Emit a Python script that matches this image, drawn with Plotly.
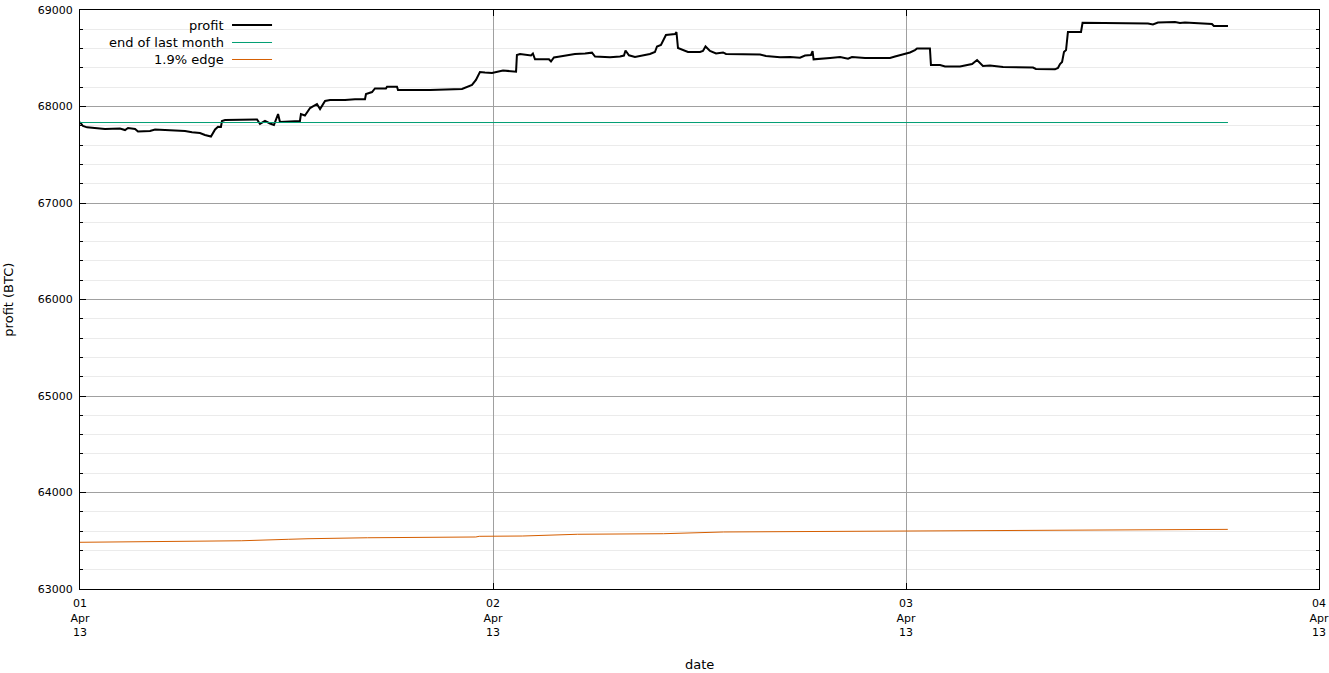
import datetime as dt
import plotly.graph_objects as go

# ---- data ----
start = dt.datetime(2013, 4, 1)

profit_hours = [0, 0.17, 0.41, 1.16, 1.45, 2.32, 2.62, 2.79, 3.20, 3.37, 4.07, 4.36, 5.52, 6.10, 6.51, 6.97,
                7.26, 7.61, 7.85, 8.02, 8.19, 8.25, 8.43, 9.70, 10.29, 10.46, 10.75, 11.04, 11.27, 11.51, 11.62,
                12.20, 12.78, 12.84, 13.07, 13.37, 13.77, 13.95, 14.24, 14.53, 15.40, 15.98, 16.56, 16.62, 16.97,
                17.14, 17.78, 17.84, 18.42, 18.48, 20.34, 22.20, 22.55, 22.78, 23.01, 23.24, 23.53, 23.94, 24.58,
                24.87, 25.34, 25.39, 25.57, 26.21, 26.32, 26.44, 27.25, 27.37, 27.54, 27.89, 28.47, 28.76, 29.35,
                29.75, 29.93, 30.80, 31.38, 31.61, 31.70, 31.90, 32.25, 33.12, 33.41, 33.53, 33.76, 34.05, 34.58,
                34.66, 34.75, 35.33, 36.03, 36.20, 36.35, 36.61, 36.96, 37.37, 37.54, 39.52, 39.86, 40.68, 41.26,
                41.84, 42.13, 42.48, 42.57, 42.63, 43.59, 44.17, 44.63, 44.86, 45.62, 47.07, 47.36, 47.94, 48.23,
                48.52, 48.64, 49.39, 49.45, 49.98, 50.27, 51.14, 51.84, 52.13, 52.30, 52.47, 52.88, 53.64, 55.38,
                55.55, 56.66, 56.83, 56.95, 57.07, 57.18, 57.30, 57.41, 58.17, 58.26, 59.27, 62.06, 62.35, 62.64,
                63.63, 63.92, 64.21, 64.79, 65.78, 65.89, 66.71]
profit_values = [67839, 67798, 67784, 67777, 67767, 67772, 67756, 67777, 67767, 67741, 67746, 67762, 67753, 67746,
                 67733, 67725, 67705, 67689, 67762, 67791, 67788, 67850, 67860, 67865, 67865, 67819, 67850, 67824,
                 67808, 67922, 67839, 67845, 67850, 67922, 67907, 67984, 68026, 67974, 68057, 68067, 68067, 68075,
                 68075, 68130, 68150, 68187, 68187, 68205, 68205, 68171, 68171, 68181, 68202, 68223, 68275, 68357,
                 68352, 68347, 68373, 68368, 68361, 68534, 68544, 68528, 68549, 68489, 68489, 68466, 68508, 68518,
                 68534, 68544, 68549, 68558, 68518, 68510, 68518, 68528, 68580, 68531, 68513, 68544, 68565, 68622,
                 68637, 68741, 68751, 68772, 68606, 68565, 68565, 68575, 68622, 68575, 68549, 68560, 68544, 68539,
                 68523, 68510, 68513, 68506, 68528, 68534, 68575, 68489, 68503, 68513, 68495, 68513, 68503, 68503,
                 68518, 68544, 68560, 68585, 68601, 68601, 68430, 68430, 68414, 68414, 68440, 68482, 68456, 68420,
                 68425, 68409, 68404, 68389, 68385, 68399, 68440, 68461, 68565, 68585, 68772, 68772, 68868, 68865,
                 68860, 68850, 68870, 68876, 68865, 68870, 68865, 68855, 68834, 68834]

edge_hours = [0, 4.2, 8.1, 9.4, 12.1, 13.25, 16.7, 20.9, 23.0, 23.2, 25.7, 28.9, 33.9, 37.4, 48.1, 55.0,
              58.1, 66.7]
edge_values = [63484, 63490, 63495, 63500, 63515, 63521, 63531, 63535, 63539, 63546, 63549, 63567, 63573,
               63591, 63601, 63604, 63614, 63618]

end_of_last_month = 67834

series_names = ["profit", "end of last month", "1.9% edge"]
series_colors = ["#000000", "#009e73", "#d55e00"]

profit_t = [start + dt.timedelta(hours=h) for h in profit_hours]
edge_t = [start + dt.timedelta(hours=h) for h in edge_hours]
month_t = [profit_t[0], profit_t[-1]]
month_v = [end_of_last_month, end_of_last_month]

FONT = "DejaVu Sans"

fig = go.Figure()
fig.add_trace(go.Scatter(x=profit_t, y=profit_values, mode="lines", name=series_names[0],
                         line=dict(color=series_colors[0], width=2)))
fig.add_trace(go.Scatter(x=month_t, y=month_v, mode="lines", name=series_names[1],
                         line=dict(color=series_colors[1], width=1)))
fig.add_trace(go.Scatter(x=edge_t, y=edge_values, mode="lines", name=series_names[2],
                         line=dict(color=series_colors[2], width=1)))

# legend (gnuplot style: right-aligned text, sample line to the right)
leg_y = [0.97409, 0.94387, 0.91451]
for name, col, yy, w in zip(series_names, series_colors, leg_y, [2, 1, 1]):
    fig.add_annotation(xref="paper", yref="paper", x=0.1178, y=yy, text=name, showarrow=False,
                       xanchor="right", yanchor="middle", font=dict(family=FONT, size=13, color="#000"))
    fig.add_shape(type="line", xref="paper", yref="paper", x0=0.1227, x1=0.155, y0=yy, y1=yy,
                  line=dict(color=col, width=w))

# axis titles
fig.add_annotation(xref="paper", yref="paper", x=0.5, y=-0.131, text="date", showarrow=False,
                   xanchor="center", yanchor="middle", font=dict(family=FONT, size=13, color="#000"))
fig.add_annotation(xref="paper", yref="paper", x=-0.058, y=0.5, text="profit (BTC)", showarrow=False,
                   textangle=-90, xanchor="center", yanchor="middle",
                   font=dict(family=FONT, size=13, color="#000"))

fig.update_layout(
    width=1329, height=673,
    margin=dict(l=80, r=10, t=10, b=84),
    paper_bgcolor="white", plot_bgcolor="white",
    showlegend=False,
    font=dict(family=FONT, size=11, color="#000"),
)
fig.update_xaxes(
    range=[dt.datetime(2013, 4, 1), dt.datetime(2013, 4, 4)],
    dtick=86400000, tick0="2013-04-01", tickformat="%d<br>%b<br>%y",
    showline=True, linecolor="black", linewidth=1, mirror="allticks",
    ticks="inside", ticklen=6, tickcolor="black",
    showgrid=True, gridcolor="#a0a0a0", gridwidth=1, zeroline=False,
    automargin=False, ticklabelstandoff=4,
    tickfont=dict(family=FONT, size=11),
)
fig.update_yaxes(
    range=[63000, 69000], dtick=1000, tick0=63000, tickformat="d",
    showline=True, linecolor="black", linewidth=1, mirror="allticks",
    ticks="inside", ticklen=6, tickcolor="black",
    showgrid=True, gridcolor="#a0a0a0", gridwidth=1, zeroline=False,
    minor=dict(dtick=200, ticks="inside", ticklen=3, tickcolor="black", showgrid=True, gridcolor="#ebebeb"),
    automargin=False, ticklabelstandoff=4,
    tickfont=dict(family=FONT, size=11),
)

fig.write_html("out.html", post_script="document.body.style.margin='0';",
               config={"displayModeBar": False})
